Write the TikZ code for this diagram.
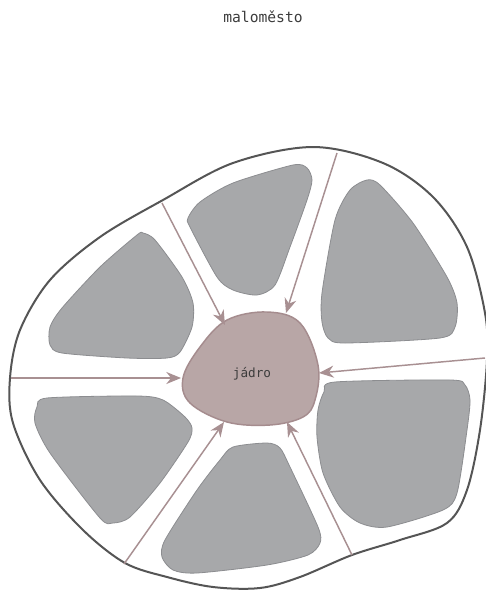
\documentclass[tikz,border=0pt]{standalone}
\usepackage{fontspec}
\setmonofont{DejaVu Sans Mono}
\usetikzlibrary{arrows.meta}
\definecolor{rimgray}{RGB}{85,85,85}
\definecolor{plotgray}{RGB}{167,168,170}
\definecolor{plotedge}{RGB}{140,141,144}
\definecolor{rose}{RGB}{184,166,166}
\definecolor{roseedge}{RGB}{165,140,142}
\definecolor{mauve}{RGB}{168,144,146}
\definecolor{ink}{RGB}{60,60,60}
\tikzset{
  >={Stealth[length=11pt,width=9pt]},
  rim/.style={draw=rimgray,line width=1.5pt,fill=white},
  plot area/.style={draw=plotedge,fill=plotgray,line width=0.6pt},
  core area/.style={draw=roseedge,fill=rose,line width=1.1pt},
  road/.style={->,draw=mauve,line width=1.1pt},
  tag/.style={font=\ttfamily\fontsize{#1}{#1}\selectfont,text=ink},
  tag/.default=9.5,
}
\begin{document}
\begin{tikzpicture}[x=0.75pt,y=-0.75pt]
  \useasboundingbox (0,0) rectangle (486,590);
  \node[tag=11] (title) at (263,17) {maloměsto};
  % town boundary
  \draw[rim] plot[smooth cycle,tension=0.55] coordinates {
    (313,147) (383,163) (433,197) (467,247) (485,313) (487,360) (480,430)
    (467,490) (447,523) (400,540) (352,555) (300,577) (260,588) (213,587)
    (167,577) (125,563) (83,530) (40,480) (13,423) (10,378) (20,330)
    (50,280) (100,237) (163,200) (233,163)};
  % built-up blocks
  \draw[plot area] plot[smooth cycle,tension=0.45] coordinates {
    (188,218) (200,202) (233,183) (293,165) (307,168) (312,180) (307,200)
    (290,247) (275,285) (257,295) (233,290) (217,277) (190,227)};
  \draw[plot area] plot[smooth cycle,tension=0.45] coordinates {
    (367,180) (380,185) (413,223) (447,277) (457,303) (455,327) (440,338)
    (345,343) (328,338) (322,322) (322,293) (335,220) (350,190)};
  \draw[plot area] plot[smooth cycle,tension=0.45] coordinates {
    (143,233) (155,240) (182,277) (193,303) (192,327) (180,352) (167,358)
    (127,358) (62,353) (50,345) (50,327) (62,308) (100,267) (137,235)};
  \draw[plot area] plot[smooth cycle,tension=0.45] coordinates {
    (47,398) (137,396) (163,400) (185,417) (192,428) (188,442) (160,483)
    (130,517) (113,523) (100,518) (50,453) (35,423) (37,407)};
  \draw[plot area] plot[smooth cycle,tension=0.45] coordinates {
    (233,447) (267,443) (280,448) (290,467) (318,527) (320,543) (308,555)
    (267,565) (197,573) (173,570) (162,557) (165,540) (197,490) (220,460)};
  \draw[plot area] plot[smooth cycle,tension=0.45] coordinates {
    (335,382) (450,380) (465,385) (470,400) (467,430) (457,493) (443,510)
    (387,527) (360,523) (340,507) (323,473) (317,437) (318,410) (324,392)};
  % centre
  \draw[core area] plot[smooth cycle,tension=0.6] coordinates {
    (227,320) (267,312) (300,323) (318,365) (315,400) (303,417) (270,425)
    (227,422) (190,403) (183,378) (200,347)};
  \node[tag] (core) at (252,374) {jádro};
  % roads into the centre
  \coordinate (nw) at (162,203);  \coordinate (nw') at (225,325);
  \coordinate (ne) at (337,153);  \coordinate (ne') at (286,313);
  \coordinate (e)  at (485,358);  \coordinate (e')  at (319,373);
  \coordinate (w)  at (11,378);   \coordinate (w')  at (181,378);
  \coordinate (sw) at (124,564);  \coordinate (sw') at (224,422);
  \coordinate (se) at (352,555);  \coordinate (se') at (287,422);
  \foreach \r in {nw,ne,e,w,sw,se}
    \draw[road] (\r) -- (\r');
\end{tikzpicture}
\end{document}
